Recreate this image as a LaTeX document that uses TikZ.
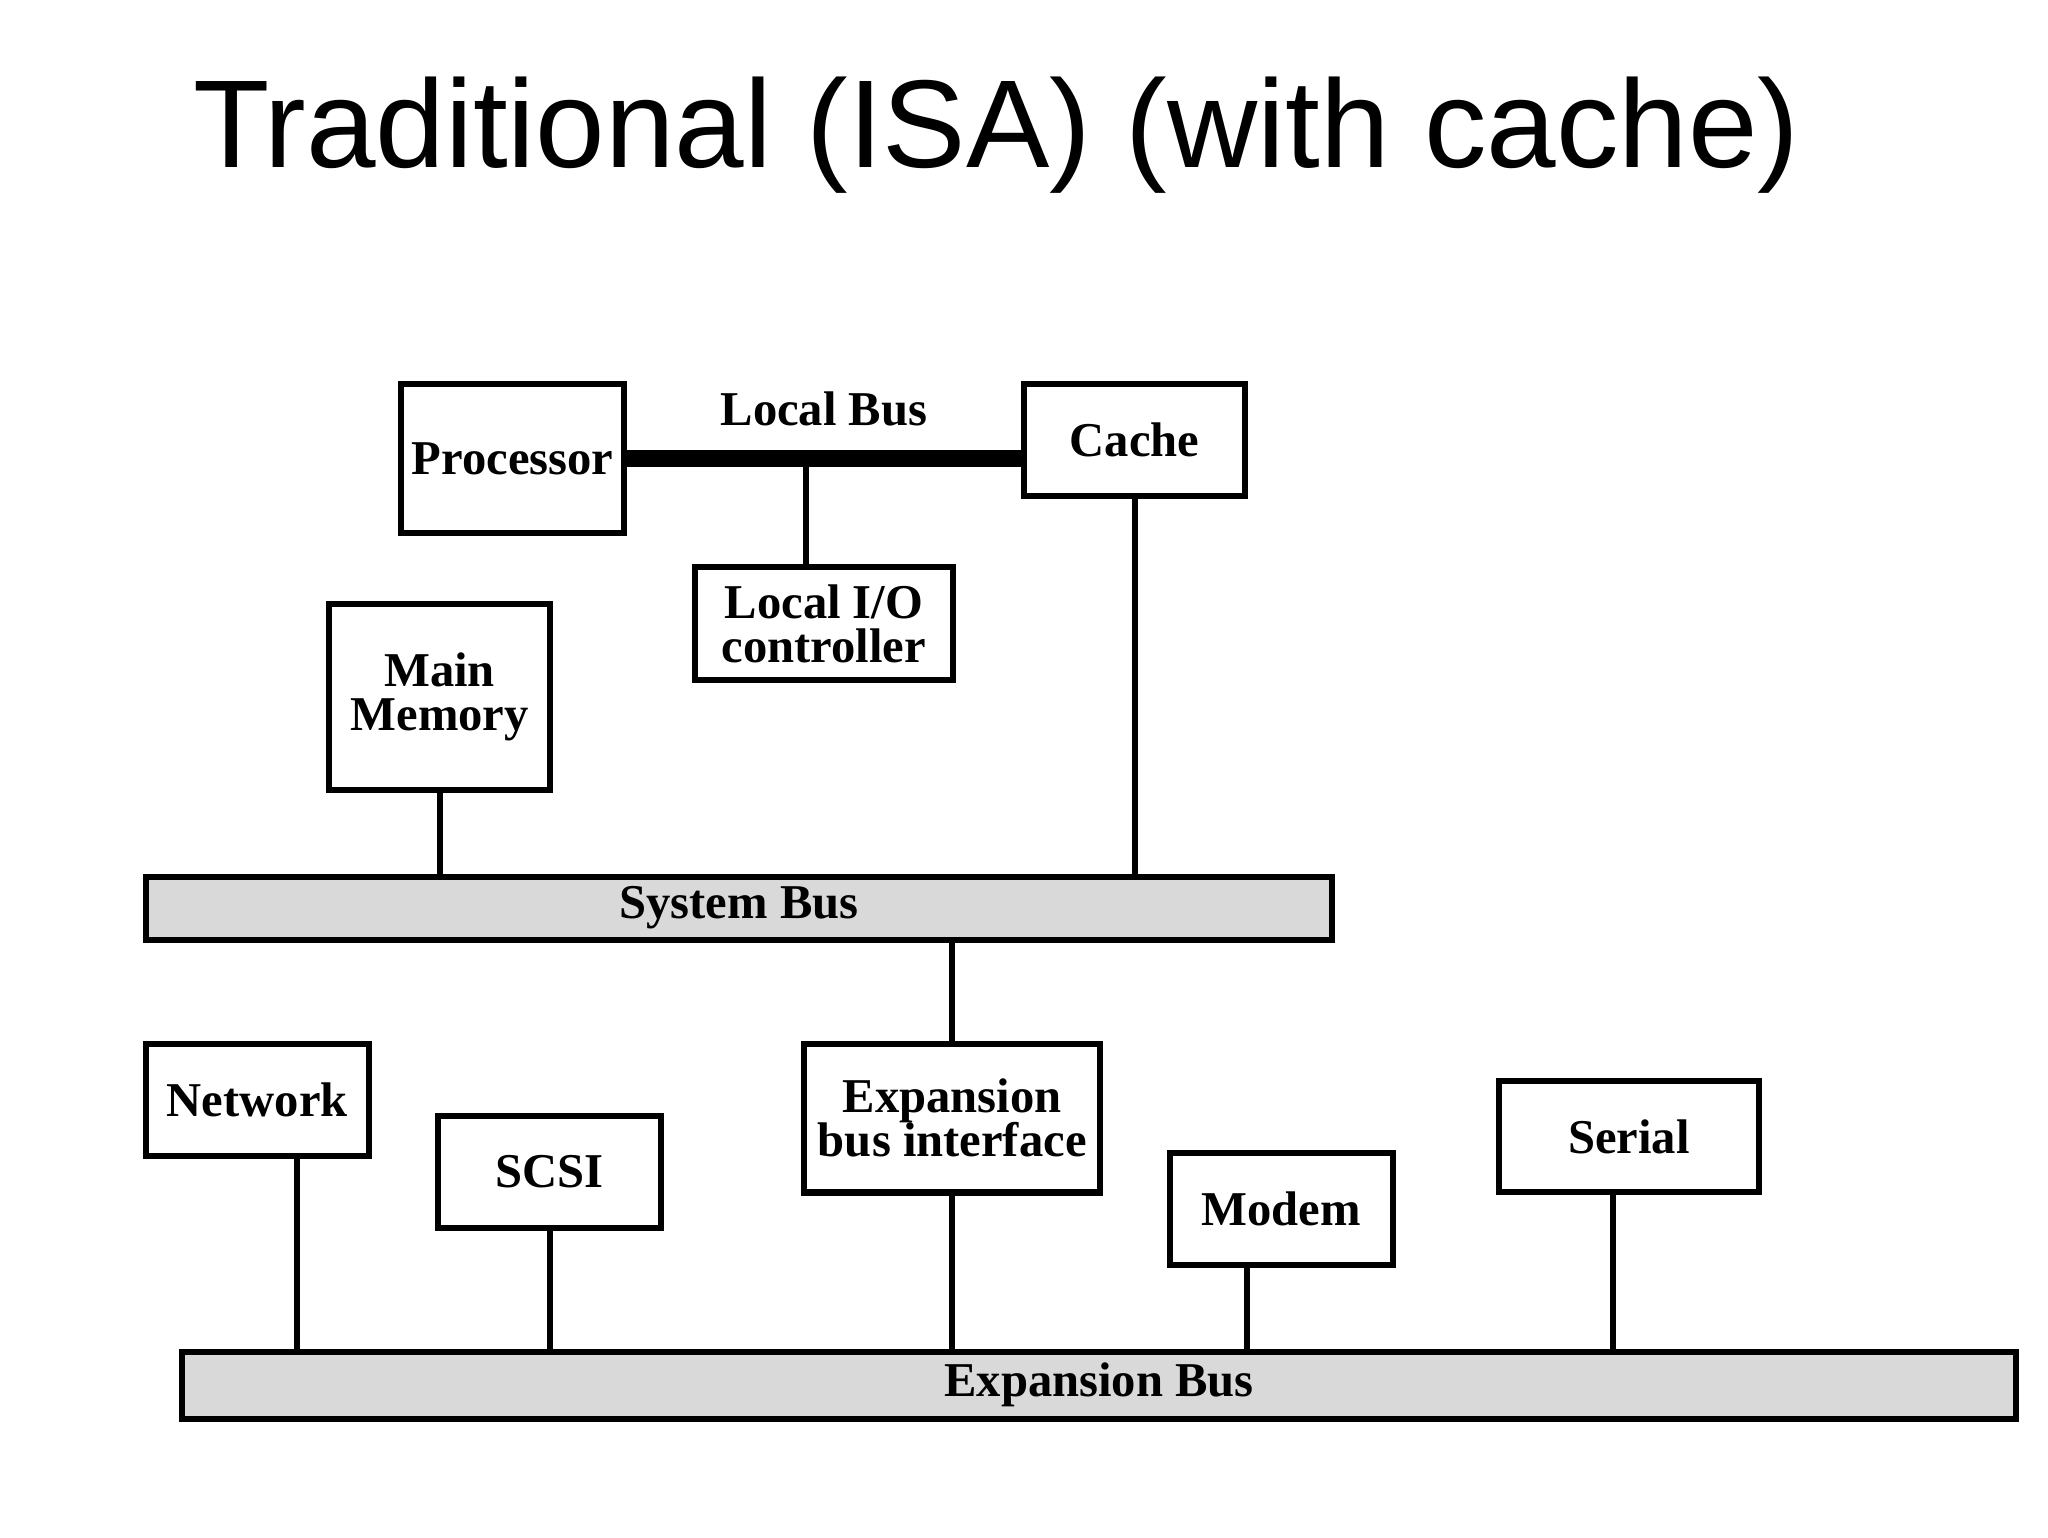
\documentclass[tikz,border=0pt]{standalone}
\usepackage{fontspec}
\setmainfont{Liberation Serif}
\newfontfamily\titlefont{Liberation Sans}
\usetikzlibrary{positioning, calc}

\begin{document}
\begin{tikzpicture}[
		x=0.01cm, y=-0.01cm,
		font=\bfseries\fontsize{10.5}{11.5}\selectfont,
		unit/.style ={draw, line width=1.3pt, fill=white, align=center, inner sep=1pt},
		bus/.style  ={draw, line width=1.3pt, fill=gray!30, inner sep=0pt},
		link/.style ={line width=1.3pt},
		localbus/.style={line width=3.6pt}
		]
		\useasboundingbox (0,0) rectangle (1556,1168);

		% --- Title ---
		\node[font=\titlefont\fontsize{27}{32}\selectfont] (title) at (757,103) {Traditional (ISA) (with cache)};

		% --- Top: processor, cache, local I/O ---
		\node[unit, minimum width=1.69cm, minimum height=1.13cm] (proc)  at (389.5,348.5) {Processor};
		\node[unit, minimum width=1.68cm, minimum height=0.85cm] (cache) at (862,334.5)   {Cache};
		\node[unit, minimum width=1.96cm, minimum height=0.86cm] (lio)   at (626,474)     {Local I/O\\[-2pt]controller};
		\node[unit, minimum width=1.68cm, minimum height=1.41cm] (mem)   at (334,529.5)   {Main\\[-2pt]Memory};

		% --- System bus ---
		\node[bus, minimum width=9.01cm, minimum height=0.48cm] (sysbus) at (561.5,690) {System Bus};

		% --- Expansion side ---
		\node[unit, minimum width=1.69cm, minimum height=0.85cm] (net)    at (195.5,835.5)  {Network};
		\node[unit, minimum width=1.69cm, minimum height=0.85cm] (scsi)   at (417.5,890.5)  {SCSI};
		\node[unit, minimum width=2.25cm, minimum height=1.13cm] (ebi)    at (723.5,849.5)  {Expansion\\[-2pt]bus interface};
		\node[unit, minimum width=1.69cm, minimum height=0.85cm] (modem)  at (973.5,918.5)  {Modem};
		\node[unit, minimum width=1.97cm, minimum height=0.85cm] (serial) at (1237.5,863.5) {Serial};
		\node[bus, minimum width=13.92cm, minimum height=0.51cm] (expbus) at (835,1052.5) {Expansion Bus};

		% --- Local bus ---
		\draw[localbus] (proc.east) -- (cache.west |- proc.east) node[midway, above=2pt] (lbus) {Local Bus};
		\coordinate (ltap) at ($(lio.north)+(-14,0)$);
		\draw[link] (ltap |- proc.east) -- (ltap);

		% --- Connections to system bus ---
		\draw[link] (cache.south) -- (cache.south |- sysbus.north);
		\draw[link] (mem.south) -- (mem.south |- sysbus.north);
		\draw[link] (ebi.north |- sysbus.south) -- (ebi.north);

		% --- Connections to expansion bus ---
		\coordinate (nettap)    at ($(net.south)+(30,0)$);
		\coordinate (modemtap)  at ($(modem.south)+(-26,0)$);
		\coordinate (serialtap) at ($(serial.south)+(-12,0)$);
		\draw[link] (nettap) -- (nettap |- expbus.north);
		\draw[link] (scsi.south) -- (scsi.south |- expbus.north);
		\draw[link] (ebi.south) -- (ebi.south |- expbus.north);
		\draw[link] (modemtap) -- (modemtap |- expbus.north);
		\draw[link] (serialtap) -- (serialtap |- expbus.north);
	\end{tikzpicture}
\end{document}
